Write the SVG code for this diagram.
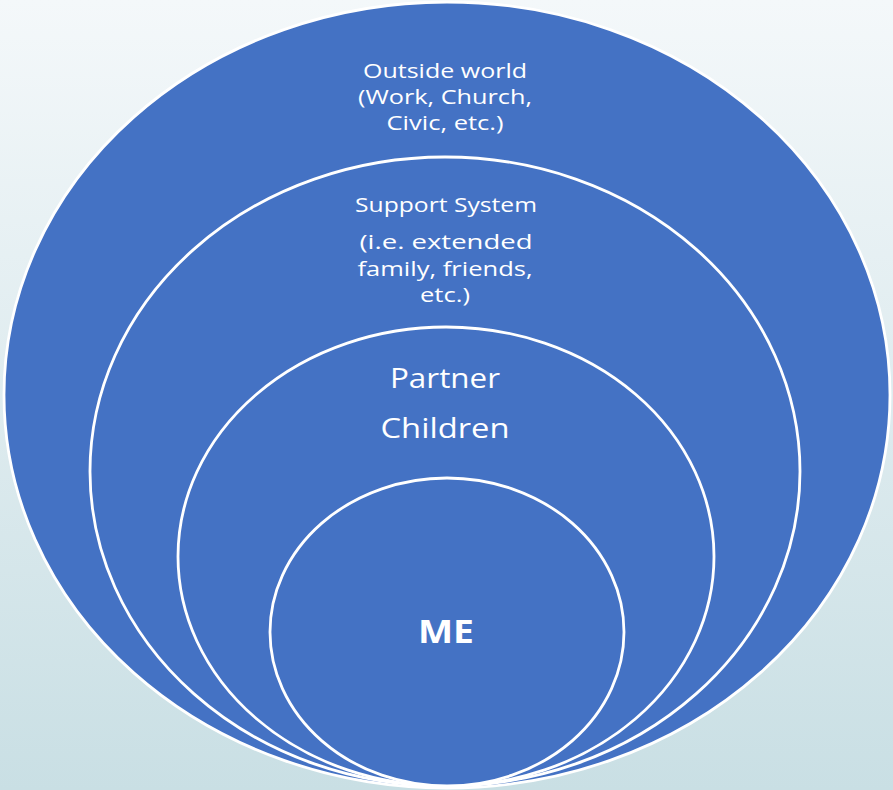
<svg xmlns="http://www.w3.org/2000/svg" width="893" height="790" viewBox="0 0 893 790">
  <defs>
    <linearGradient id="bg" x1="0" y1="0" x2="0" y2="1">
      <stop offset="0" stop-color="#f4f8fa"/>
      <stop offset="1" stop-color="#c9dfe4"/>
    </linearGradient>
    <style>
      .ring { fill: #4472c4; stroke: #ffffff; stroke-width: 2.8; }
      .lbl { fill: #ffffff; font-family: "Open Sans", "Liberation Sans", sans-serif; text-anchor: middle; }
      .sm { font-size: 20px; }
      .md { font-size: 27px; }
      .bd { font-size: 33px; font-weight: bold; }
    </style>
  </defs>

  <rect x="0" y="0" width="893" height="790" fill="url(#bg)"/>

  <!-- Outer ring: outside world -->
  <g id="outside-world">
    <ellipse class="ring" cx="447" cy="395" rx="443" ry="393" stroke-width="1.5"/>
    <text class="lbl sm" x="445" y="78" textLength="164" lengthAdjust="spacingAndGlyphs">Outside world</text>
    <text class="lbl sm" x="445" y="104" textLength="174" lengthAdjust="spacingAndGlyphs">(Work, Church,</text>
    <text class="lbl sm" x="445" y="130" textLength="117" lengthAdjust="spacingAndGlyphs">Civic, etc.)</text>
  </g>

  <!-- Second ring: support system -->
  <g id="support-system">
    <ellipse class="ring" cx="445" cy="471.5" rx="355" ry="314.5"/>
    <text class="lbl sm" x="446" y="212" textLength="182" lengthAdjust="spacingAndGlyphs">Support System</text>
    <text class="lbl sm" x="446" y="249" textLength="173" lengthAdjust="spacingAndGlyphs">(i.e. extended</text>
    <text class="lbl sm" x="445" y="276" textLength="175" lengthAdjust="spacingAndGlyphs">family, friends,</text>
    <text class="lbl sm" x="445" y="302" textLength="50" lengthAdjust="spacingAndGlyphs">etc.)</text>
  </g>

  <!-- Third ring: partner and children -->
  <g id="partner-children">
    <ellipse class="ring" cx="446" cy="556.5" rx="268" ry="229.5"/>
    <text class="lbl md" x="445" y="388" textLength="110" lengthAdjust="spacingAndGlyphs">Partner</text>
    <text class="lbl md" x="445" y="438" textLength="129" lengthAdjust="spacingAndGlyphs">Children</text>
  </g>

  <!-- Inner ring: me -->
  <g id="me">
    <ellipse class="ring" cx="447" cy="632" rx="177" ry="154"/>
    <text class="lbl bd" x="446" y="643" textLength="56" lengthAdjust="spacingAndGlyphs">ME</text>
  </g>

  <g id="connectors"/>
</svg>
